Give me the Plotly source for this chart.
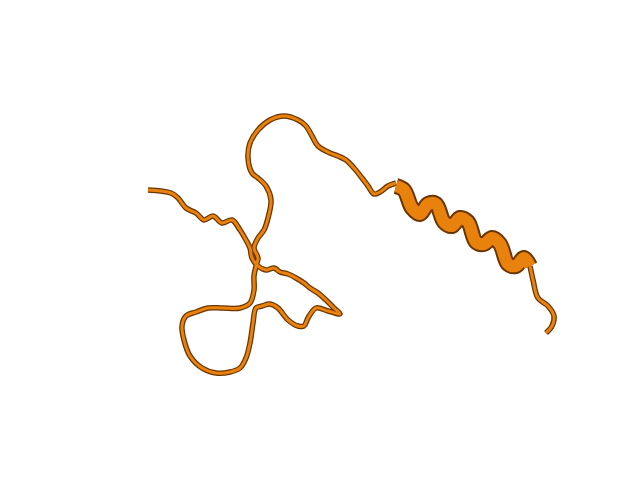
import plotly.graph_objects as go

coil_x = [140,163,170,178,188,196,205,214,224,232,238,242,244,250,258,266,272,280,288,296,302,310,318,326,332,320,308,300,296,290,280,270,262,254,248,245,242,238,232,222,208,194,182,176,174,178,188,200,215,232,242,246,246,248,250,246,250,256,260,263,258,250,244,240,242,250,262,276,290,298,304,310,322,330,338,346,354,360,366,372,380,388]
coil_y = [182,185,190,200,205,212,208,215,212,222,232,240,250,258,262,260,264,266,270,275,280,285,292,300,306,303,300,310,318,318,312,300,296,298,300,315,335,350,360,364,365,360,348,332,318,308,304,300,300,300,295,282,268,258,250,240,230,222,210,192,178,170,165,150,135,122,112,108,112,118,128,138,145,148,152,160,170,178,186,184,178,175]
helix_x = [388,396,404,412,420,428,436,444,452,460,468,476,484,492,500,508,516,522]
helix_y = [178,182,200,206,196,196,214,218,210,214,234,236,230,236,256,258,250,258]
tail_x = [522,525,530,540,546,544,538]
tail_y = [258,272,290,298,308,318,325]

dark = "#6b3500"
orange = "#e8820c"
fig = go.Figure()
for xs, ys, w in [(coil_x, coil_y, 3), (tail_x, tail_y, 3)]:
    fig.add_trace(go.Scatter(x=xs, y=ys, mode="lines", line=dict(color=dark, width=w+2.5, shape="spline"), hoverinfo="skip"))
    fig.add_trace(go.Scatter(x=xs, y=ys, mode="lines", line=dict(color=orange, width=w, shape="spline"), hoverinfo="skip"))
fig.add_trace(go.Scatter(x=helix_x, y=helix_y, mode="lines", line=dict(color=dark, width=16, shape="spline"), hoverinfo="skip"))
fig.add_trace(go.Scatter(x=helix_x, y=helix_y, mode="lines", line=dict(color=orange, width=12, shape="spline"), hoverinfo="skip"))

fig.update_layout(width=640, height=480, margin=dict(l=0, r=0, t=0, b=0),
                  paper_bgcolor="white", plot_bgcolor="white", showlegend=False,
                  xaxis=dict(range=[0, 640], visible=False),
                  yaxis=dict(range=[480, 0], visible=False))
fig.write_html("out.html")
